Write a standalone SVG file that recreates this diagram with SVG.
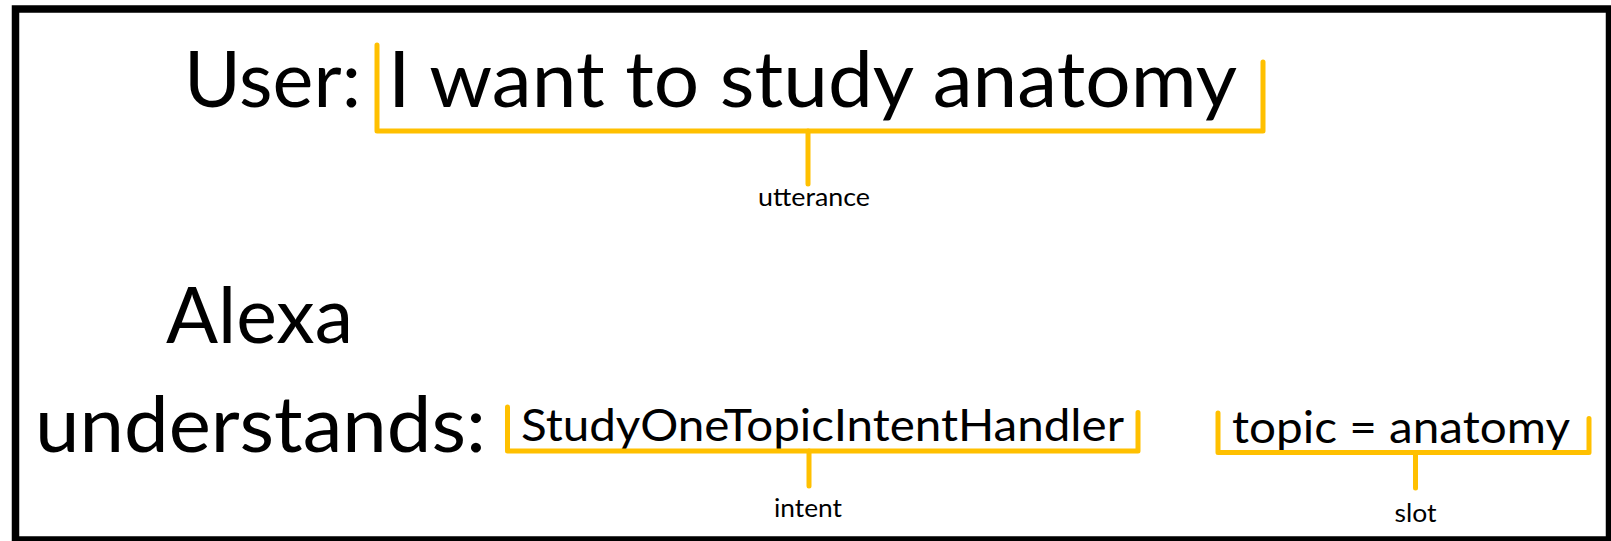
<svg xmlns="http://www.w3.org/2000/svg" width="1611" height="541" viewBox="0 0 1611 541">
  <style>
    .t { font-family: Lato, "Open Sans", "Liberation Sans", sans-serif; fill: #000000; }
    .big { font-size: 77px; }
    .mid { font-size: 45px; }
    .small { font-size: 25px; }
    .br { fill: none; stroke: #FFC000; stroke-width: 5; stroke-linecap: round; stroke-linejoin: round; }
  </style>
  <rect x="0" y="0" width="1611" height="541" fill="#ffffff"/>
  <rect id="frame" x="15.5" y="9" width="1594" height="531" fill="none" stroke="#000000" stroke-width="7.5"/>

  <g id="user-label">
    <text class="t big" x="184" y="107" textLength="177" lengthAdjust="spacingAndGlyphs">User:</text>
  </g>
  <g id="utterance-text">
    <text class="t big" x="388" y="107" textLength="849" lengthAdjust="spacingAndGlyphs">I want to study anatomy</text>
  </g>
  <g id="utterance-label">
    <text class="t small" x="758" y="205.5" textLength="112" lengthAdjust="spacingAndGlyphs">utterance</text>
  </g>
  <g id="alexa-label">
    <text class="t big" x="166" y="342.5" textLength="187" lengthAdjust="spacingAndGlyphs">Alexa</text>
    <text class="t big" x="35" y="451.5" textLength="451" lengthAdjust="spacingAndGlyphs">understands:</text>
  </g>
  <g id="intent-text">
    <text class="t mid" x="521" y="440.5" textLength="603" lengthAdjust="spacingAndGlyphs">StudyOneTopicIntentHandler</text>
  </g>
  <g id="intent-label">
    <text class="t small" x="774" y="516.5" textLength="68" lengthAdjust="spacingAndGlyphs">intent</text>
  </g>
  <g id="slot-text">
    <text class="t mid" x="1232" y="442.5" textLength="338" lengthAdjust="spacingAndGlyphs">topic = anatomy</text>
  </g>
  <g id="slot-label">
    <text class="t small" x="1394.5" y="521.5" textLength="42" lengthAdjust="spacingAndGlyphs">slot</text>
  </g>

  <g id="connectors">
    <path class="br" d="M377,45 V131 H1263 V62"/>
    <path class="br" d="M808,131 V184"/>
    <path class="br" d="M507.5,407 V451 H1138 V412.5"/>
    <path class="br" d="M809,451 V486"/>
    <path class="br" d="M1218,413 V452.5 H1589 V418.5"/>
    <path class="br" d="M1415.5,452.5 V488"/>
  </g>
</svg>
